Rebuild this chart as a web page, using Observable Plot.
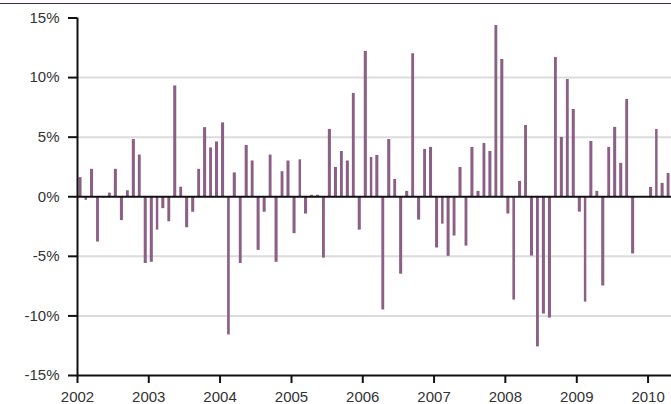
<!DOCTYPE html>
<html>
<head>
<meta charset="utf-8">
<script src="https://cdn.jsdelivr.net/npm/d3@7"></script>
<script src="https://cdn.jsdelivr.net/npm/@observablehq/plot@0.6"></script>
<style>
  html, body { margin: 0; padding: 0; background: #fff; }
  #topline { position: absolute; left: 0; top: 3px; width: 671px; height: 1px; background: #4a2752; }
  #chart { position: relative; }
</style>
</head>
<body>
<div id="chart"></div>
<div id="topline"></div>
<script>
// Monthly returns (%) Jan 2002 – Apr 2010
const startYear = 2002;
const values = [
  // 2002
  1.6, -0.3, 2.3, -3.8, -0.1, 0.3, 2.3, -2.0, 0.5, 4.8, 3.5, -5.6,
  // 2003
  -5.5, -2.8, -1.0, -2.1, 9.3, 0.8, -2.6, -1.3, 2.3, 5.8, 4.1, 4.6,
  // 2004
  6.2, -11.6, 2.0, -5.6, 4.3, 3.0, -4.5, -1.3, 3.5, -5.5, 2.1, 3.0,
  // 2005
  -3.1, 3.1, -1.45, 0.12, 0.12, -5.15, 5.65, 2.46, 3.8, 3.0, 8.67, -2.8,
  // 2006
  12.2, 3.3, 3.47, -9.5, 4.8, 1.45, -6.5, 0.45, 12.0, -1.96, 3.97, 4.14,
  // 2007
  -4.3, -2.3, -5.0, -3.3, 2.46, -4.14, 4.14, 0.45, 4.47, 3.8, 14.37, 11.52,
  // 2008
  -1.45, -8.67, 1.29, 5.98, -4.98, -12.6, -9.84, -10.18, 11.69, 4.98, 9.84, 7.33,
  // 2009
  -1.29, -8.84, 4.64, 0.45, -7.49, 4.14, 5.82, 2.8, 8.17, -4.8, 0, 0,
  // 2010
  0.78, 5.65, 1.12, 1.96
];
const yearTicks = [2002, 2003, 2004, 2005, 2006, 2007, 2008, 2009, 2010];
const yTicks = [-15, -10, -5, 0, 5, 10, 15];
const gridValues = [-10, -5, 5, 10];

const months = values.map((v, i) => new Date(Date.UTC(startYear, i, 1)));
const table = values.map((v, i) => ({
  x1: months[i],
  x2: d3.utcMonth.offset(months[i], 1),
  y: v
}));
const xStart = new Date(Date.UTC(2002, 0, 1));
const xEnd = new Date(Date.UTC(2010, 4, 1));

const chart = Plot.plot({
  width: 671,
  height: 404,
  marginTop: 17.5,
  marginBottom: 29,
  marginLeft: 77,
  marginRight: 0,
  style: { fontFamily: "Liberation Sans, Arial, sans-serif", fontSize: "15px", color: "#333", background: "#fff" },
  x: { type: "utc", domain: [xStart, xEnd], label: null },
  y: { domain: [-15, 15], label: null },
  marks: [
    Plot.ruleY(gridValues, { stroke: "#dcdcdc", strokeWidth: 2 }),
    Plot.rectY(table, { x1: "x1", x2: "x2", y: "y", fill: "#8b5f86", insetLeft: 1.5, insetRight: 1.5 }),
    Plot.ruleY([0], { stroke: "#111", strokeWidth: 2 }),
    Plot.ruleY([-15], { stroke: "#111", strokeWidth: 2 }),
    Plot.ruleX([xStart], { stroke: "#111", strokeWidth: 2 }),
    Plot.axisY({
      ticks: yTicks,
      tickFormat: d => d + "%",
      tickSize: 9,
      tickPadding: 9,
      stroke: "#111",
      strokeWidth: 2,
      label: null,
      fill: "#333"
    }),
    Plot.axisX({
      ticks: yearTicks.map(y => new Date(Date.UTC(y, 0, 1))),
      tickFormat: d => String(d.getUTCFullYear()),
      tickSize: 8,
      tickPadding: 8,
      stroke: "#111",
      strokeWidth: 2,
      label: null,
      fill: "#333"
    })
  ]
});
document.getElementById("chart").appendChild(chart);
</script>
</body>
</html>
